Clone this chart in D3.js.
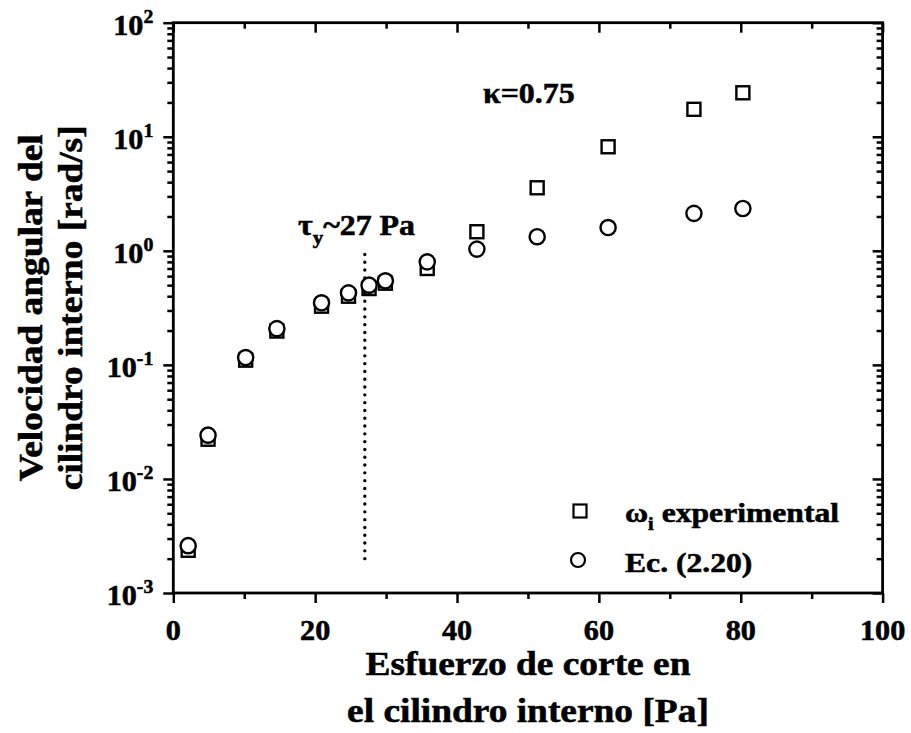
<!DOCTYPE html>
<html>
<head>
<meta charset="utf-8">
<script src="https://cdn.jsdelivr.net/npm/d3@7"></script>
<style>
  body { margin: 0; background: #fff; }
  text { font-family: "Liberation Serif", "Times New Roman", serif; font-weight: bold; fill: #000;
         stroke: #000; stroke-width: 0.55px; }
</style>
</head>
<body>
<svg id="chart" width="911" height="733"></svg>
<script>
// Shear stress at the inner cylinder [Pa]
const stress = [2.1, 4.9, 10.2, 14.6, 20.9, 24.7, 27.6, 29.9, 35.8, 42.8, 51.3, 61.3, 73.4, 80.3];
// Measured angular velocity of the inner cylinder [rad/s]
const omegaExperimental = [0.00237, 0.0223, 0.110, 0.198, 0.327, 0.400, 0.467, 0.52, 0.70, 1.47, 3.57, 8.17, 17.4, 24.3];
// Angular velocity from Ec. (2.20) [rad/s]
const omegaEquation = [0.0026, 0.0242, 0.116, 0.208, 0.350, 0.428, 0.500, 0.546, 0.80, 1.035, 1.33, 1.60, 2.13, 2.35];

const xTickValues = [0, 20, 40, 60, 80, 100];
const xMinorValues = [10, 30, 50, 70, 90];
const yExponents = [-3, -2, -1, 0, 1, 2];

const yieldStress = 27;          // tau_y ~ 27 Pa
const yieldLineRange = [0.002, 1.0];
const kappaLabel = "κ=0.75";
const legendLabels = ["experimental", "Ec. (2.20)"];

const svg = d3.select("#chart");
const W = 911, H = 733;
const margin = { left: 173.3, right: W - 882.6, top: 22.7, bottom: H - 593 };

const x = d3.scaleLinear().domain([0, 100]).range([margin.left, W - margin.right]);
const y = d3.scaleLog().domain([1e-3, 1e2]).range([H - margin.bottom, margin.top]);

const yMinor = [];
yExponents.slice(0, -1).forEach(e => { for (let k = 2; k <= 9; k++) yMinor.push(k * Math.pow(10, e)); });
const yMajor = yExponents.map(e => Math.pow(10, e));

const axisStroke = 2.8;
function styleAxis(g) {
  g.select(".domain").remove();
  g.selectAll(".tick line").attr("stroke", "#000").attr("stroke-width", 2.5);
  g.selectAll(".tick text").remove();
}

// bottom: outward ticks
svg.append("g").attr("transform", `translate(0,${y(1e-3)})`)
  .call(d3.axisBottom(x).tickValues(xTickValues).tickSize(10)).call(styleAxis);
svg.append("g").attr("transform", `translate(0,${y(1e-3)})`)
  .call(d3.axisBottom(x).tickValues(xMinorValues).tickSize(6)).call(styleAxis);
// top: inward ticks
svg.append("g").attr("transform", `translate(0,${y(1e2)})`)
  .call(d3.axisTop(x).tickValues(xTickValues).tickSize(-10)).call(styleAxis);
svg.append("g").attr("transform", `translate(0,${y(1e2)})`)
  .call(d3.axisTop(x).tickValues(xMinorValues).tickSize(-6)).call(styleAxis);
// left: outward ticks
svg.append("g").attr("transform", `translate(${x(0)},0)`)
  .call(d3.axisLeft(y).tickValues(yMajor).tickSize(10)).call(styleAxis);
svg.append("g").attr("transform", `translate(${x(0)},0)`)
  .call(d3.axisLeft(y).tickValues(yMinor).tickSize(6)).call(styleAxis);
// right: inward ticks
svg.append("g").attr("transform", `translate(${x(100)},0)`)
  .call(d3.axisRight(y).tickValues(yMajor).tickSize(-10)).call(styleAxis);
svg.append("g").attr("transform", `translate(${x(100)},0)`)
  .call(d3.axisRight(y).tickValues(yMinor).tickSize(-6)).call(styleAxis);

// frame
svg.append("rect")
  .attr("x", x(0)).attr("y", y(1e2))
  .attr("width", x(100) - x(0)).attr("height", y(1e-3) - y(1e2))
  .attr("fill", "none").attr("stroke", "#000").attr("stroke-width", axisStroke);

// text placed through a transform so the lettering can be widened a little
function placed(g, tx, ty, rot, sx, size, anchor) {
  return g.append("text")
    .attr("transform", `translate(${tx},${ty}) rotate(${rot}) scale(${sx},1)`)
    .attr("text-anchor", anchor).attr("font-size", size);
}

// x tick labels
xTickValues.forEach(v => placed(svg, x(v), y(1e-3) + 47, 0, 1.06, 28.5, "middle").text(v));

// y tick labels: 10 with superscript exponent
yExponents.forEach(e => {
  const t = placed(svg, x(0) - 20, y(Math.pow(10, e)) + 12, 0, 1.04, 29, "end");
  t.append("tspan").text("10");
  t.append("tspan").attr("font-size", 19).attr("dy", -12).text(e);
});

// axis titles
const xCenter = (x(0) + x(100)) / 2;
const yCenter = (y(1e-3) + y(1e2)) / 2;
placed(svg, xCenter, 675, 0, 1.1, 34, "middle").text("Esfuerzo de corte en");
placed(svg, xCenter, 722, 0, 1.1, 34, "middle").text("el cilindro interno [Pa]");
placed(svg, 42, yCenter, -90, 1.1, 34, "middle").text("Velocidad angular del");
placed(svg, 82, yCenter, -90, 1.1, 34, "middle").text("cilindro interno [rad/s]");

// yield stress marker
svg.append("line")
  .attr("x1", x(yieldStress)).attr("x2", x(yieldStress))
  .attr("y1", y(yieldLineRange[0])).attr("y2", y(yieldLineRange[1]))
  .attr("stroke", "#000").attr("stroke-width", 3.4)
  .attr("stroke-linecap", "round").attr("stroke-dasharray", "0 7.8");

const tau = placed(svg, 298, 235, 0, 1.1, 29, "start");
tau.append("tspan").text("τ");
tau.append("tspan").attr("font-size", 19).attr("dy", 9).text("y");
tau.append("tspan").attr("dy", -9).text("~27 Pa");

placed(svg, 483, 103, 0, 1.1, 29, "start").text(kappaLabel);

// data markers
const sq = 13;
svg.append("g").selectAll("rect").data(stress).join("rect")
  .attr("x", d => x(d) - sq / 2).attr("y", (d, i) => y(omegaExperimental[i]) - sq / 2)
  .attr("width", sq).attr("height", sq)
  .attr("fill", "none").attr("stroke", "#000").attr("stroke-width", 2.4);

svg.append("g").selectAll("circle").data(stress).join("circle")
  .attr("cx", d => x(d)).attr("cy", (d, i) => y(omegaEquation[i])).attr("r", 7.6)
  .attr("fill", "#fff").attr("stroke", "#000").attr("stroke-width", 2.4);

// legend
const leg = svg.append("g");
leg.append("rect").attr("x", 580 - 6.5).attr("y", 511 - 6.5).attr("width", 13).attr("height", 13)
  .attr("fill", "none").attr("stroke", "#000").attr("stroke-width", 2.2);
leg.append("circle").attr("cx", 578).attr("cy", 560).attr("r", 7)
  .attr("fill", "none").attr("stroke", "#000").attr("stroke-width", 2.2);
const l1 = placed(leg, 625, 522, 0, 1.13, 28, "start");
l1.append("tspan").text("ω");
l1.append("tspan").attr("font-size", 18).attr("dy", 8).text("i");
l1.append("tspan").attr("dy", -8).text(" " + legendLabels[0]);
placed(leg, 625, 572, 0, 1.13, 28, "start").text(legendLabels[1]);
</script>
</body>
</html>
